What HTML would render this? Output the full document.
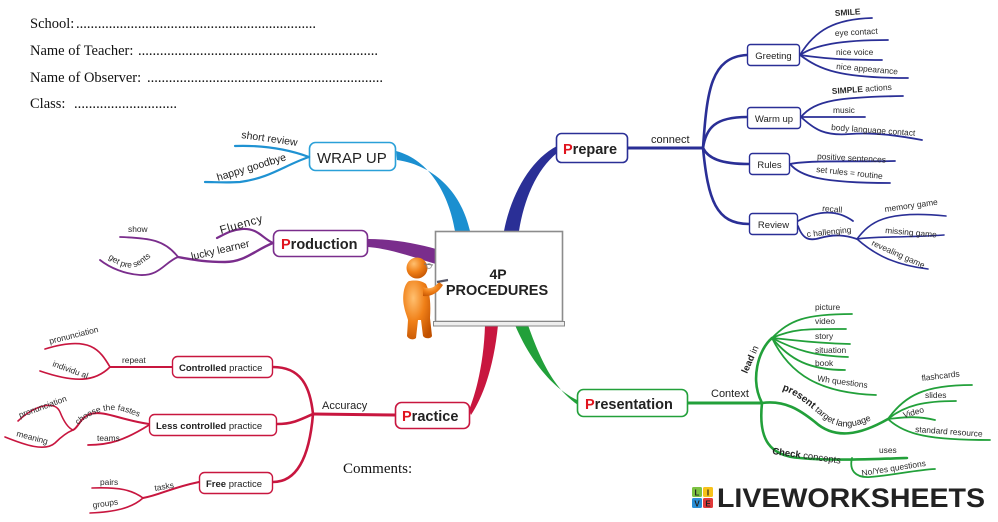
<!DOCTYPE html>
<html><head><meta charset="utf-8"><style>
html,body{margin:0;padding:0;background:#fff;}
svg{display:block;}
text{font-family:"Liberation Sans",Arial,sans-serif;fill:#222;}
.s{font-family:"Liberation Serif","Times New Roman",serif;fill:#111;}
.lf{font-size:8.4px;fill:#2a2a2a;}
.nv{fill:none;stroke:#2a2f96;stroke-linecap:round;}
.gr{fill:none;stroke:#22a03a;stroke-linecap:round;}
.rd{fill:none;stroke:#c8163f;stroke-linecap:round;}
.pu{fill:none;stroke:#7a2d8c;stroke-linecap:round;}
.bl{fill:none;stroke:#1f92d2;stroke-linecap:round;}
</style></head><body>
<svg width="998" height="522" viewBox="0 0 998 522" xmlns="http://www.w3.org/2000/svg">
<defs>
<radialGradient id="og" cx="0.35" cy="0.3" r="0.8">
<stop offset="0" stop-color="#ffc070"/><stop offset="0.5" stop-color="#f08018"/><stop offset="1" stop-color="#c05000"/>
</radialGradient>
<path id="ptl" d="M782,390 C798,395 812,409 826,420 C842,431 860,428 884,413"/>
<path id="gps" d="M108,258 C118,266 128,270 138,266 C146,262 152,254 162,251"/>
<path id="ctf" d="M78,425 C92,412 108,408 122,411 C130,413 136,416 142,418"/>
</defs>

<!-- Header -->
<text class="s" x="30" y="28" font-size="14.5">School:</text>
<text class="s" x="76" y="28" font-size="14.5" textLength="240" lengthAdjust="spacing">..................................................................</text>
<text class="s" x="30" y="55" font-size="14.5">Name of Teacher:</text>
<text class="s" x="138" y="55" font-size="14.5" textLength="240" lengthAdjust="spacing">..................................................................</text>
<text class="s" x="30" y="82" font-size="14.5">Name of Observer:</text>
<text class="s" x="147" y="82" font-size="14.5" textLength="236" lengthAdjust="spacing">.................................................................</text>
<text class="s" x="30" y="108" font-size="14.5">Class:</text>
<text class="s" x="74" y="108" font-size="14.5" textLength="103" lengthAdjust="spacing">............................</text>

<text class="s" x="343" y="473" font-size="15">Comments:</text>

<!-- Main bands -->
<path d="M396,151 C430,160 449,195 455,231 L470,231 C462,195 437,166 397,160 Z" fill="#1b8fd0"/>
<path d="M557,146 C530,160 511,195 504,231 L519,231 C524,200 536,170 557,153 Z" fill="#2a2f96"/>
<path d="M368,239 C395,239 418,244 436,249 L436,264 C412,257 392,249 368,247 Z" fill="#7a2d8c"/>
<path d="M485,325 L498,325 C494,365 484,395 471,415 L469,410 C477,390 484,360 485,325 Z" fill="#c8163f"/>
<path d="M515,325 L528,325 C542,365 556,390 578,405 L577,400 C556,390 532,365 515,325 Z" fill="#22a03a"/>

<!-- Board -->
<rect x="435.5" y="231.5" width="127" height="90" fill="#fff" stroke="#8c8c8c" stroke-width="1.6"/>
<rect x="433.5" y="321.5" width="131" height="4.5" fill="#eee" stroke="#888" stroke-width="1"/>
<text x="498" y="279" font-size="14" font-weight="bold" text-anchor="middle" fill="#111">4P</text>
<text x="497" y="295" font-size="14.5" font-weight="bold" text-anchor="middle" fill="#111">PROCEDURES</text>

<!-- Person -->
<path d="M409,281 C404,284 402,296 404,306 C405,312 407,316 408,320 L407,336 C409,340 414,340 416,338 L418,320 L421,320 L423,336 C425,339 431,339 432,336 L430,318 C431,305 430,292 426,284 C421,280 414,280 409,281 Z" fill="url(#og)"/>
<path d="M423,287 C430,290 435,287 439,282 L443,285 C438,293 431,297 423,296 Z" fill="url(#og)"/>
<circle cx="417" cy="268" r="10.5" fill="url(#og)"/>
<path d="M424,264 L433,265" stroke="#777" stroke-width="1" fill="none"/>
<circle cx="429" cy="266" r="2.4" fill="none" stroke="#888" stroke-width="0.8"/>
<path d="M437,282 L448,280" stroke="#556" stroke-width="2.2"/>

<!-- ================= PREPARE ================= -->
<path class="nv" stroke-width="3" d="M628,148 L703,148"/>
<path class="nv" stroke-width="2.6" d="M703,148 C707,90 711,57 747,55"/>
<path class="nv" stroke-width="2.6" d="M703,148 C706,128 715,117 747,117"/>
<path class="nv" stroke-width="2.6" d="M703,148 C708,158 720,164 749,164"/>
<path class="nv" stroke-width="2.6" d="M703,148 C708,200 716,224 749,224"/>
<rect x="556.5" y="133.5" width="71" height="29" rx="5" fill="#fff" stroke="#2a2f96" stroke-width="1.6"/>
<text x="563" y="154" font-size="14.5" font-weight="bold" fill="#222"><tspan fill="#e0141e">P</tspan>repare</text>
<text x="651" y="143" font-size="11">connect</text>

<rect x="747.5" y="44.5" width="52" height="21" rx="3" fill="#fff" stroke="#2a2f96" stroke-width="1.4"/>
<text x="773.5" y="59" font-size="9.5" text-anchor="middle">Greeting</text>
<rect x="747.5" y="107.5" width="53" height="21" rx="3" fill="#fff" stroke="#2a2f96" stroke-width="1.4"/>
<text x="774" y="122" font-size="9.5" text-anchor="middle">Warm up</text>
<rect x="749.5" y="153.5" width="40" height="21" rx="3" fill="#fff" stroke="#2a2f96" stroke-width="1.4"/>
<text x="769.5" y="168" font-size="9.5" text-anchor="middle">Rules</text>
<rect x="749.5" y="213.5" width="48" height="21" rx="3" fill="#fff" stroke="#2a2f96" stroke-width="1.4"/>
<text x="773.5" y="228" font-size="9.5" text-anchor="middle">Review</text>

<!-- Greeting leaves -->
<path class="nv" stroke-width="1.8" d="M800,55 C815,30 835,19 872,18"/>
<path class="nv" stroke-width="1.8" d="M800,55 C815,45 840,40 888,40"/>
<path class="nv" stroke-width="1.8" d="M800,55 C820,58 840,60 882,60"/>
<path class="nv" stroke-width="1.8" d="M800,55 C820,70 840,78 908,78"/>
<text class="lf" x="835" y="16" font-weight="bold" transform="rotate(-4 835 16)">SMILE</text>
<text class="lf" x="835" y="36" transform="rotate(-3 835 36)">eye contact</text>
<text class="lf" x="836" y="55">nice voice</text>
<text class="lf" x="836" y="69" transform="rotate(5 836 69)">nice appearance</text>

<!-- Warm up leaves -->
<path class="nv" stroke-width="1.8" d="M801,117 C815,100 840,97 903,96"/>
<path class="nv" stroke-width="1.8" d="M801,117 L865,117"/>
<path class="nv" stroke-width="1.8" d="M801,117 C815,130 825,136 850,134 C875,132 900,136 922,140"/>
<text class="lf" x="832" y="94" transform="rotate(-4 832 94)"><tspan font-weight="bold">SIMPLE</tspan> actions</text>
<text class="lf" x="833" y="113">music</text>
<text class="lf" x="831" y="130" transform="rotate(4 831 130)">body language contact</text>

<!-- Rules leaves -->
<path class="nv" stroke-width="1.8" d="M790,164 C810,160 850,162 895,161"/>
<path class="nv" stroke-width="1.8" d="M790,164 C800,176 820,183 890,183"/>
<text class="lf" x="817" y="159" transform="rotate(3 817 159)">positive sentences</text>
<text class="lf" x="816" y="172" transform="rotate(6 816 172)">set rules = routine</text>

<!-- Review leaves -->
<path class="nv" stroke-width="1.8" d="M798,221 C815,212 835,208 853,221"/>
<path class="nv" stroke-width="1.8" d="M798,226 C803,240 810,241 820,238 C835,234 845,235 857,239"/>
<path class="nv" stroke-width="1.6" d="M857,239 C870,222 885,210 946,216"/>
<path class="nv" stroke-width="1.6" d="M857,239 C875,236 900,238 944,235"/>
<path class="nv" stroke-width="1.6" d="M857,239 C875,255 895,265 928,269"/>
<text class="lf" x="822" y="211" transform="rotate(5 822 211)">recall</text>
<text class="lf" x="807" y="237" transform="rotate(-6 807 237)">c hallenging</text>
<text class="lf" x="885" y="212" transform="rotate(-8 885 212)">memory game</text>
<text class="lf" x="885" y="233" transform="rotate(5 885 233)">missing game</text>
<text class="lf" x="871" y="245" transform="rotate(24 871 245)">revealing game</text>

<!-- ================= PRESENTATION ================= -->
<path class="gr" stroke-width="3" d="M688,403 L762,403"/>
<path class="gr" stroke-width="2.6" d="M762,403 C750,380 758,350 772,338"/>
<path class="gr" stroke-width="2.6" d="M762,403 C785,400 800,410 815,422 C835,440 860,435 888,419"/>
<path class="gr" stroke-width="2.6" d="M762,403 C758,440 770,456 800,458 C830,461 880,459 907,458"/>
<path class="gr" stroke-width="1.8" d="M852,458 C849,470 855,478 870,477 C895,475 915,470 935,469"/>
<rect x="577.5" y="389.5" width="110" height="27" rx="6" fill="#fff" stroke="#22a03a" stroke-width="1.6"/>
<text x="585" y="409" font-size="14.5" font-weight="bold"><tspan fill="#e0141e">P</tspan>resentation</text>
<text x="711" y="397" font-size="11">Context</text>
<text font-size="9.5" transform="translate(747,374) rotate(-66)"><tspan font-weight="bold">lead</tspan> in</text>

<path class="gr" stroke-width="1.8" d="M772,338 C790,320 805,314 852,314"/>
<path class="gr" stroke-width="1.8" d="M772,338 C795,328 810,329 846,329"/>
<path class="gr" stroke-width="1.8" d="M772,338 C795,340 810,343 850,344"/>
<path class="gr" stroke-width="1.8" d="M772,338 C795,350 815,356 848,357"/>
<path class="gr" stroke-width="1.8" d="M772,338 C790,360 810,370 845,370"/>
<path class="gr" stroke-width="1.8" d="M772,338 C790,375 820,393 876,395"/>
<text class="lf" x="815" y="310">picture</text>
<text class="lf" x="815" y="324">video</text>
<text class="lf" x="815" y="339">story</text>
<text class="lf" x="815" y="353">situation</text>
<text class="lf" x="815" y="366">book</text>
<text class="lf" x="817" y="381" transform="rotate(8 817 381)">Wh questions</text>

<text font-size="9"><textPath href="#ptl"><tspan font-weight="bold" font-size="10">present</tspan> target language</textPath></text>
<path class="gr" stroke-width="1.8" d="M888,419 C905,395 925,385 972,385"/>
<path class="gr" stroke-width="1.8" d="M888,419 C905,405 925,401 956,401"/>
<path class="gr" stroke-width="1.8" d="M888,419 C900,418 915,415 935,420"/>
<path class="gr" stroke-width="1.8" d="M888,419 C905,435 930,440 990,440"/>
<text class="lf" x="922" y="381" transform="rotate(-7 922 381)">flashcards</text>
<text class="lf" x="925" y="398">slides</text>
<text class="lf" x="904" y="418" transform="rotate(-16 904 418)">Video</text>
<text class="lf" x="915" y="432" transform="rotate(4 915 432)">standard resource</text>

<text font-size="9.5" x="772" y="454" transform="rotate(8 772 454)"><tspan font-weight="bold">Check</tspan> concepts</text>
<text class="lf" x="879" y="453">uses</text>
<text class="lf" x="862" y="476" transform="rotate(-9 862 476)">No/Yes questions</text>

<!-- ================= PRACTICE ================= -->
<path class="rd" stroke-width="3" d="M395,415 L313,414"/>
<path class="rd" stroke-width="2.6" d="M313,414 C310,385 300,367 273,367"/>
<path class="rd" stroke-width="2.6" d="M313,414 C300,420 292,424 277,424"/>
<path class="rd" stroke-width="2.6" d="M313,414 C310,450 300,482 273,482"/>
<rect x="395.5" y="402.5" width="74" height="26" rx="6" fill="#fff" stroke="#c8163f" stroke-width="1.6"/>
<text x="402" y="421" font-size="14.5" font-weight="bold"><tspan fill="#e0141e">P</tspan>ractice</text>
<text x="322" y="409" font-size="11">Accuracy</text>

<rect x="172.5" y="356.5" width="100" height="21" rx="5" fill="#fff" stroke="#c8163f" stroke-width="1.4"/>
<text x="179" y="371" font-size="9.5"><tspan font-weight="bold">Controlled</tspan> practice</text>
<rect x="149.5" y="414.5" width="127" height="21" rx="5" fill="#fff" stroke="#c8163f" stroke-width="1.4"/>
<text x="156" y="429" font-size="9.5"><tspan font-weight="bold">Less controlled</tspan> practice</text>
<rect x="199.5" y="472.5" width="73" height="21" rx="5" fill="#fff" stroke="#c8163f" stroke-width="1.4"/>
<text x="206" y="487" font-size="9.5"><tspan font-weight="bold">Free</tspan> practice</text>

<!-- Controlled leaves -->
<path class="rd" stroke-width="2" d="M172,367 L110,367"/>
<path class="rd" stroke-width="1.7" d="M110,367 C100,350 90,335 45,349"/>
<path class="rd" stroke-width="1.7" d="M110,367 C95,382 75,383 40,371"/>
<text class="lf" x="122" y="363">repeat</text>
<text class="lf" x="50" y="344" transform="rotate(-14 50 344)">pronunciation</text>
<text class="lf" x="52" y="366" transform="rotate(20 52 366)">individu al</text>

<!-- Less controlled leaves -->
<path class="rd" stroke-width="2" d="M149,424 C120,420 105,410 90,414 C80,418 78,428 73,430"/>
<path class="rd" stroke-width="1.8" d="M149,425 C125,440 110,445 88,445"/>
<path class="rd" stroke-width="1.6" d="M18,421 C35,405 55,400 60,412 C64,422 68,428 73,430"/>
<path class="rd" stroke-width="1.6" d="M5,437 C25,445 45,452 55,443 C62,436 68,432 73,430"/>
<text class="lf"><textPath href="#ctf">choose the fastes</textPath></text>
<text class="lf" x="97" y="441">teams</text>
<text class="lf" x="20" y="418" transform="rotate(-20 20 418)">pronunciation</text>
<text class="lf" x="16" y="436" transform="rotate(15 16 436)">meaning</text>

<!-- Free leaves -->
<path class="rd" stroke-width="2" d="M199,482 C170,488 160,495 143,498"/>
<path class="rd" stroke-width="1.6" d="M92,488 C120,487 132,490 143,498"/>
<path class="rd" stroke-width="1.6" d="M90,513 C115,512 132,508 143,498"/>
<text class="lf" x="155" y="491" transform="rotate(-10 155 491)">tasks</text>
<text class="lf" x="100" y="485">pairs</text>
<text class="lf" x="93" y="508" transform="rotate(-8 93 508)">groups</text>

<!-- ================= PRODUCTION ================= -->
<rect x="273.5" y="230.5" width="94" height="26" rx="6" fill="#fff" stroke="#7a2d8c" stroke-width="1.6"/>
<text x="281" y="249" font-size="14.5" font-weight="bold"><tspan fill="#e0141e">P</tspan>roduction</text>
<path class="pu" stroke-width="2.2" d="M273,243 C262,238 258,228 242,229 C231,230 225,234 217,238"/>
<path class="pu" stroke-width="2.4" d="M273,243 C255,250 245,262 225,262 C205,262 195,260 178,257"/>
<path class="pu" stroke-width="1.8" d="M178,257 C165,240 150,238 120,237"/>
<path class="pu" stroke-width="1.8" d="M178,257 C165,262 160,276 140,275 C125,274 110,268 100,260"/>
<text x="221" y="234" font-size="11.5" letter-spacing="0.6" transform="rotate(-16 221 234)">Fluency</text>
<text x="192" y="260" font-size="10.5" transform="rotate(-13 192 260)">lucky learner</text>
<text class="lf" x="128" y="232">show</text>
<text class="lf"><textPath href="#gps">get pre sents</textPath></text>

<!-- ================= WRAP UP ================= -->
<rect x="309.5" y="142.5" width="86" height="28" rx="6" fill="#fff" stroke="#2aa0d8" stroke-width="1.6"/>
<text x="317" y="163" font-size="15" fill="#333">WRAP UP</text>
<path class="bl" stroke-width="2.2" d="M309,157 C290,150 265,145 235,146"/>
<path class="bl" stroke-width="2.2" d="M309,157 C285,165 270,178 240,182 C225,183 215,182 205,182"/>
<text x="241" y="138" font-size="10.5" transform="rotate(8 241 138)">short review</text>
<text x="218" y="181" font-size="10.5" transform="rotate(-17 218 181)">happy goodbye</text>

<!-- ================= LOGO ================= -->
<rect x="692" y="487" width="10" height="10" rx="1.5" fill="#7cc242"/>
<rect x="703" y="487" width="10" height="10" rx="1.5" fill="#f7c21a"/>
<rect x="692" y="498" width="10" height="10" rx="1.5" fill="#2a8fd6"/>
<rect x="703" y="498" width="10" height="10" rx="1.5" fill="#e23b3b"/>
<text x="697" y="495.5" font-size="8" font-weight="bold" text-anchor="middle" fill="#fff">L</text>
<text x="708" y="495.5" font-size="8" font-weight="bold" text-anchor="middle" fill="#fff">I</text>
<text x="697" y="506.5" font-size="8" font-weight="bold" text-anchor="middle" fill="#fff">V</text>
<text x="708" y="506.5" font-size="8" font-weight="bold" text-anchor="middle" fill="#fff">E</text>
<text x="717" y="507" font-size="26.5" font-weight="bold" fill="#1d3a73" textLength="268" lengthAdjust="spacingAndGlyphs">LIVEWORKSHEETS</text>
</svg>
</body></html>
